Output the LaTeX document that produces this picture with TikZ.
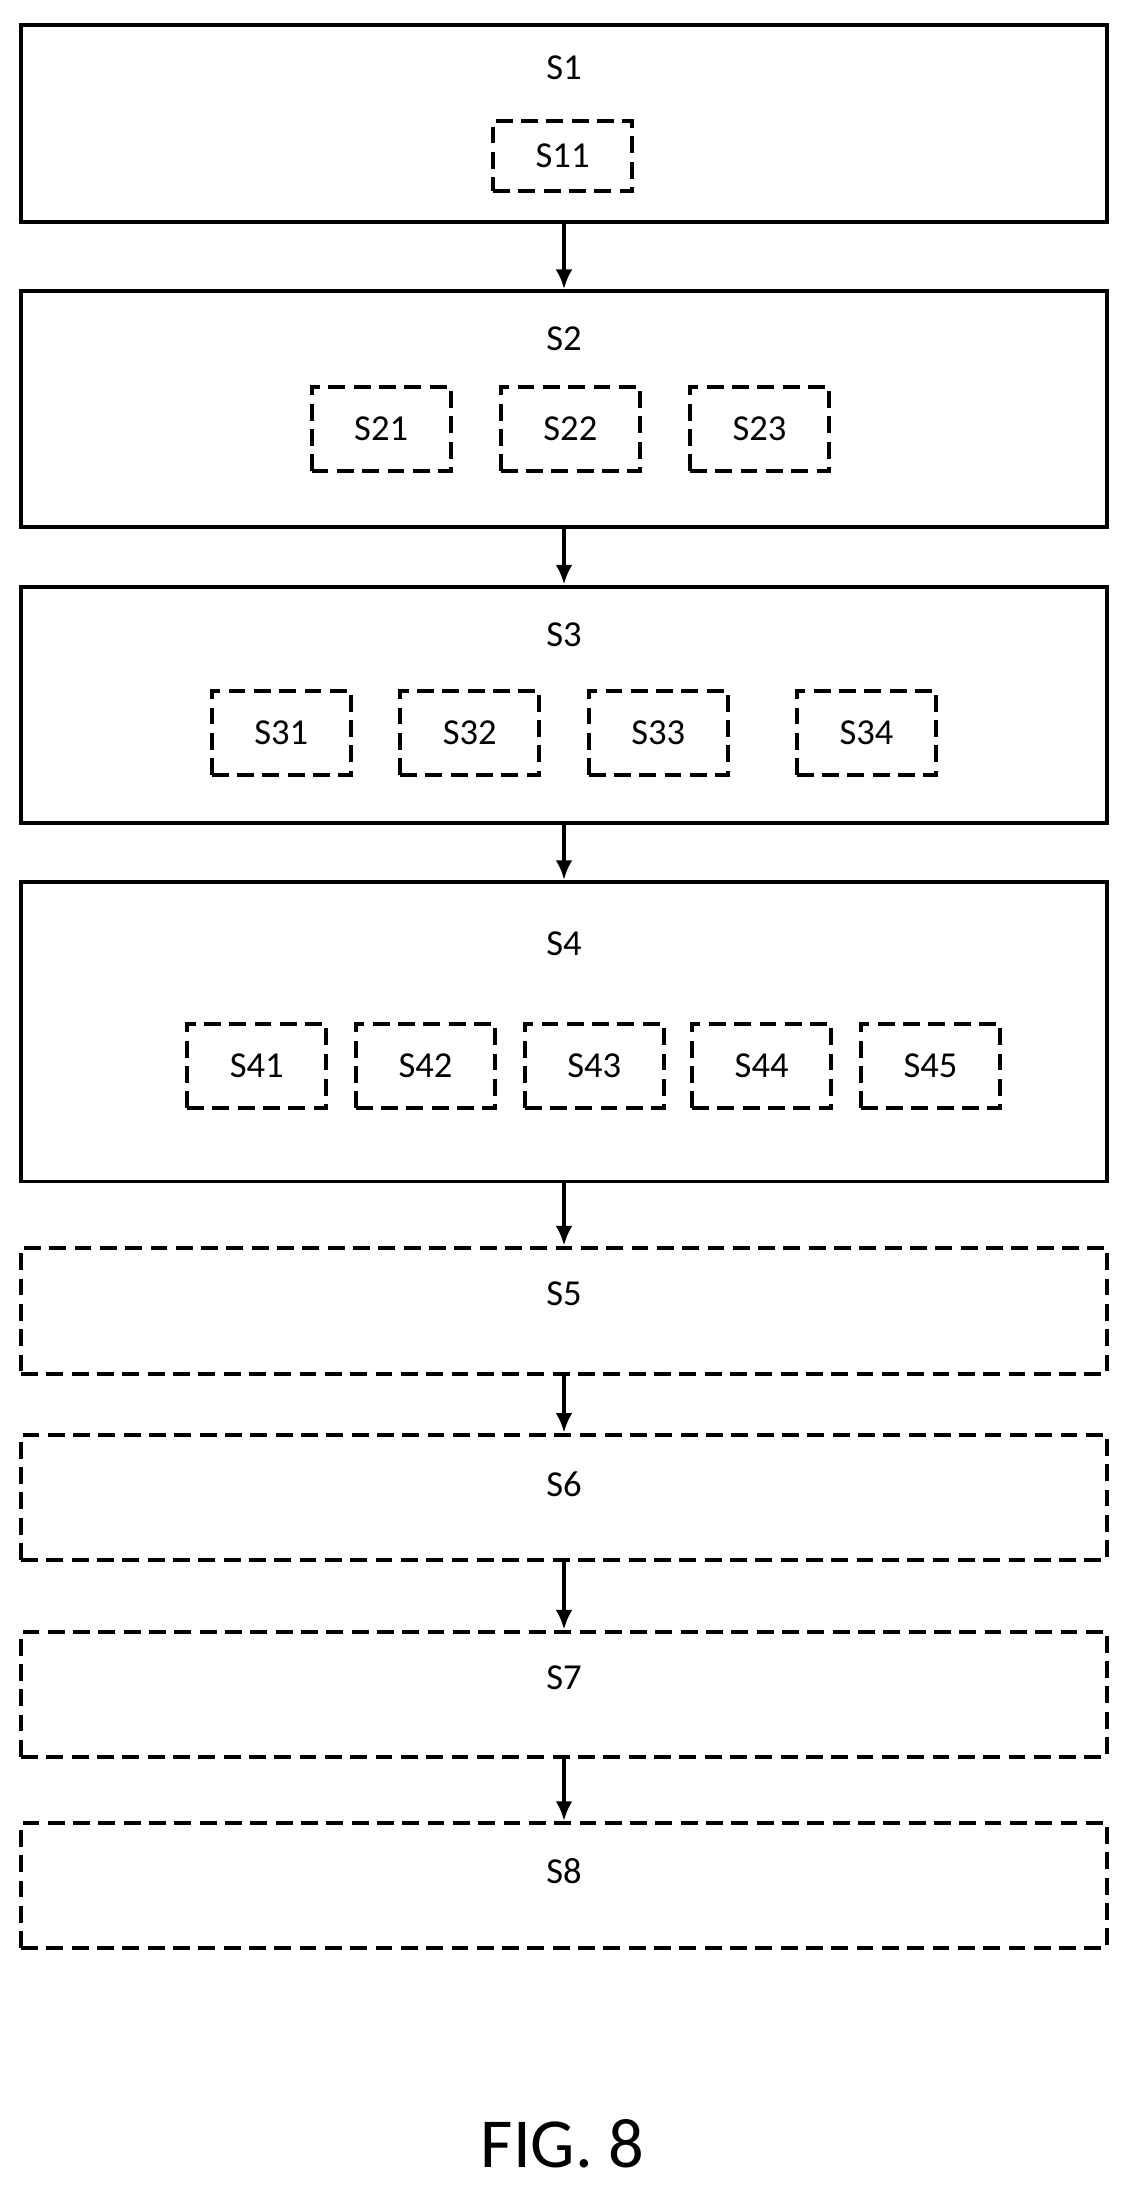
\documentclass[tikz,border=0pt]{standalone}
\usepackage{fontspec}
\setmainfont{Carlito}
\usetikzlibrary{arrows.meta, positioning}
\begin{document}
\begin{tikzpicture}[
            every node/.style={font=\fontsize{13}{15}\selectfont, align=center},
            stage/.style={draw, line width=1.4pt, minimum width=386pt, inner sep=0pt},
            optstage/.style={stage, dash pattern=on 6pt off 3pt},
            sub/.style={draw, line width=1.4pt, dash pattern=on 6pt off 3pt, minimum width=49.5pt, minimum height=30pt, inner sep=0pt},
            lbl/.style={inner sep=0pt},
            arrow/.style={-{Latex[length=7pt,width=6pt]}, line width=1.4pt}
        ]
        \useasboundingbox (0,0) rectangle (400pt,-778.5pt);

        % Main steps
        \node[stage, minimum height=70pt] (s1) at (200.5pt,-44pt) {};
        \node[stage, minimum height=84pt] (s2) at (200.5pt,-145.5pt) {};
        \node[stage, minimum height=84pt] (s3) at (200.5pt,-250.5pt) {};
        \node[stage, minimum height=106.5pt] (s4) at (200.5pt,-366.75pt) {};
        \node[optstage, minimum height=45pt] (s5) at (200.5pt,-466pt) {};
        \node[optstage, minimum height=44.5pt] (s6) at (200.5pt,-532.25pt) {};
        \node[optstage, minimum height=44.5pt] (s7) at (200.5pt,-602.25pt) {};
        \node[optstage, minimum height=44.5pt] (s8) at (200.5pt,-670.25pt) {};

        % Labels
        \node[lbl] (l1) at (200.5pt,-24pt) {S1};
        \node[lbl] (l2) at (200.5pt,-120.5pt) {S2};
        \node[lbl] (l3) at (200.5pt,-225.5pt) {S3};
        \node[lbl] (l4) at (200.5pt,-335.5pt) {S4};
        \node[lbl] (l5) at (200.5pt,-460pt) {S5};
        \node[lbl] (l6) at (200.5pt,-527.5pt) {S6};
        \node[lbl] (l7) at (200.5pt,-596.5pt) {S7};
        \node[lbl] (l8) at (200.5pt,-665pt) {S8};

        % Sub steps
        \node[sub, minimum height=25pt] (s11) at (200pt,-55.5pt) {S11};
        \node[sub] (s21) at (135.5pt,-152.5pt) {S21};
        \node[sub] (s22) at (202.75pt,-152.5pt) {S22};
        \node[sub] (s23) at (270pt,-152.5pt) {S23};
        \node[sub] (s31) at (100pt,-260.5pt) {S31};
        \node[sub] (s32) at (167pt,-260.5pt) {S32};
        \node[sub] (s33) at (234pt,-260.5pt) {S33};
        \node[sub] (s34) at (308pt,-260.5pt) {S34};
        \node[sub] (s41) at (91.25pt,-379pt) {S41};
        \node[sub] (s42) at (151.25pt,-379pt) {S42};
        \node[sub] (s43) at (211.25pt,-379pt) {S43};
        \node[sub] (s44) at (270.75pt,-379pt) {S44};
        \node[sub] (s45) at (330.75pt,-379pt) {S45};

        % Connections
        \draw[arrow] (s1) -- (s2);
        \draw[arrow] (s2) -- (s3);
        \draw[arrow] (s3) -- (s4);
        \draw[arrow] (s4) -- (s5);
        \draw[arrow] (s5) -- (s6);
        \draw[arrow] (s6) -- (s7);
        \draw[arrow] (s7) -- (s8);

        \node[font=\fontsize{25}{28}\selectfont, inner sep=0pt] (fig) at (200pt,-762pt) {FIG. 8};
    \end{tikzpicture}
\end{document}
